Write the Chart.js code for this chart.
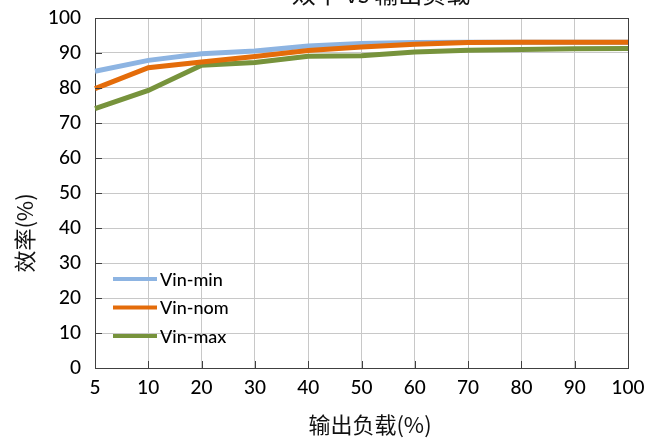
<!DOCTYPE html>
<html>
<head>
<meta charset="utf-8">
<script src="https://cdn.jsdelivr.net/npm/chart.js@4"></script>
<style>
html,body{margin:0;padding:0;background:#fff;}
#wrap{width:659px;height:443px;position:relative;}
</style>
</head>
<body>
<div id="wrap"><canvas id="c" width="659" height="443"></canvas></div>
<script>
const categories = ['5','10','20','30','40','50','60','70','80','90','100'];
const vinMin = [84.8, 87.9, 89.8, 90.6, 92.0, 92.7, 93.0, 93.1, 93.1, 93.1, 93.1];
const vinNom = [79.8, 85.8, 87.4, 89.0, 90.7, 91.7, 92.5, 93.0, 93.1, 93.1, 93.1];
const vinMax = [74.1, 79.3, 86.5, 87.3, 89.1, 89.2, 90.3, 90.8, 91.0, 91.2, 91.3];
const seriesNames = ['Vin-min', 'Vin-nom', 'Vin-max'];
const yTicks = [0,10,20,30,40,50,60,70,80,90,100];
const chartTitle = '效率 vs 输出负载';
const xTitle = '输出负载(%)';
const yTitle = '效率(%)';

const colors = ['#8DB4E2', '#E46C0A', '#77933C'];
const FONT = 'Lato, "Noto Sans", sans-serif';
const CJK = '"Noto Sans CJK SC", sans-serif';
const GRID = '#C8C8C8';
const AXIS = '#404040';

const decor = {
  id: 'decor',
  afterDraw(chart) {
    const ctx = chart.ctx;
    const xs = chart.scales.x, ys = chart.scales.y;
    const a = chart.chartArea;
    ctx.save();
    ctx.strokeStyle = AXIS;
    ctx.lineWidth = 1;
    ctx.beginPath();
    xs.ticks.forEach((t, i) => {
      const x = Math.round(xs.getPixelForTick(i)) + 0.5;
      ctx.moveTo(x, a.bottom); ctx.lineTo(x, a.bottom - 7);
    });
    ys.ticks.forEach((t, i) => {
      const y = Math.round(ys.getPixelForTick(i)) + 0.5;
      ctx.moveTo(a.left, y); ctx.lineTo(a.left + 7, y);
    });
    ctx.stroke();
    ctx.fillStyle = '#111';
    ctx.textAlign = 'center';
    ctx.textBaseline = 'alphabetic';
    ctx.font = '24px ' + CJK;
    ctx.fillText(chartTitle, 381, 3);
    ctx.font = '22px ' + CJK;
    ctx.textBaseline = 'middle';
    ctx.fillText(xTitle, 370, 425);
    ctx.save();
    ctx.translate(25, 233);
    ctx.rotate(-Math.PI / 2);
    ctx.fillText(yTitle, 0, 0);
    ctx.restore();
    ctx.font = '500 18px ' + FONT;
    ctx.textAlign = 'left';
    ctx.textBaseline = 'middle';
    chart.data.datasets.forEach((ds, i) => {
      const y = 279 + i * 28.5;
      ctx.strokeStyle = ds.borderColor;
      ctx.lineWidth = 4;
      ctx.beginPath();
      ctx.moveTo(113, y); ctx.lineTo(157, y);
      ctx.stroke();
      ctx.fillStyle = '#000';
      ctx.fillText(ds.label, 160, y + 1);
    });
    ctx.restore();
  }
};

new Chart(document.getElementById('c'), {
  type: 'line',
  data: {
    labels: categories,
    datasets: [
      { label: seriesNames[0], data: vinMin, borderColor: colors[0], backgroundColor: colors[0], order: 1 },
      { label: seriesNames[1], data: vinNom, borderColor: colors[1], backgroundColor: colors[1], order: 0 },
      { label: seriesNames[2], data: vinMax, borderColor: colors[2], backgroundColor: colors[2], order: 2 }
    ]
  },
  options: {
    responsive: false,
    animation: false,
    devicePixelRatio: 1,
    layout: { padding: { top: 18, right: 31, left: 0, bottom: 0 } },
    elements: {
      line: { borderWidth: 5, tension: 0, borderCapStyle: 'butt', borderJoinStyle: 'miter' },
      point: { radius: 0, hoverRadius: 0 }
    },
    plugins: { legend: { display: false }, tooltip: { enabled: false }, title: { display: false } },
    scales: {
      x: {
        type: 'category',
        offset: false,
        grid: {
          drawTicks: false,
          color: (c) => (c.index === categories.length - 1 ? AXIS : GRID),
          lineWidth: 1
        },
        border: { color: AXIS, width: 1 },
        ticks: { color: '#000', font: { family: FONT, size: 19, weight: '500' }, padding: 8, maxRotation: 0, autoSkip: false },
        afterFit: (s) => { s.height = 75; s.paddingLeft = 0; s.paddingRight = 0; }
      },
      y: {
        min: 0, max: 100,
        afterBuildTicks: (s) => { s.ticks = yTicks.map(v => ({ value: v })); },
        grid: {
          drawTicks: false,
          color: (c) => (c.tick && c.tick.value === 100 ? AXIS : GRID),
          lineWidth: 1
        },
        border: { color: AXIS, width: 1 },
        ticks: { color: '#000', font: { family: FONT, size: 19, weight: '500' }, padding: 14 },
        afterFit: (s) => { s.width = 95; s.paddingTop = 0; s.paddingBottom = 0; }
      }
    }
  },
  plugins: [decor]
});
</script>
</body>
</html>
